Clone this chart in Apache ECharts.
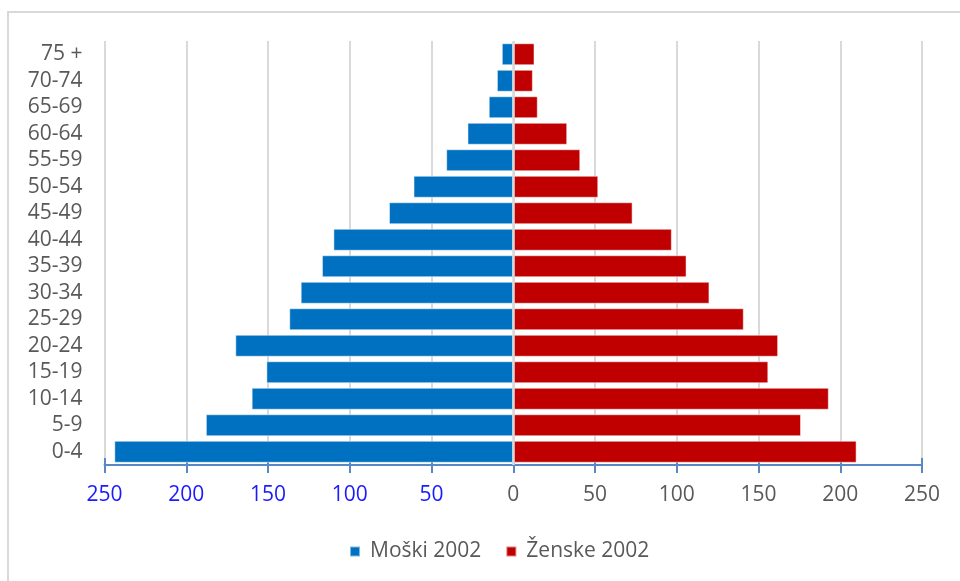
<!DOCTYPE html>
<html>
<head>
<meta charset="utf-8">
<script src="https://cdn.jsdelivr.net/npm/echarts@6/dist/echarts.min.js"></script>
<style>
html,body{margin:0;padding:0;background:#fff;}
#c{width:960px;height:581px;}
</style>
</head>
<body>
<div id="c"></div>
<script>
const categories = ["0-4","5-9","10-14","15-19","20-24","25-29","30-34","35-39","40-44","45-49","50-54","55-59","60-64","65-69","70-74","75 +"];
const male2002 = [244,188,160,151,170,137,130,117,110,76,61,41,28,15,10,7];
const female2002 = [210,176,193,156,162,141,120,106,97,73,52,41,33,15,12,13];
const xTicks = [-250,-200,-150,-100,-50,0,50,100,150,200,250];
const seriesNames = ["Moški 2002","Ženske 2002"];

const chart = echarts.init(document.getElementById('c'), null, {renderer:'canvas'});
const font = "'Open Sans', sans-serif";
const xBase = {
  type:'value', min:xTicks[0], max:xTicks[xTicks.length-1], interval:50, position:'bottom'
};
chart.setOption({
  animation:false,
  backgroundColor:'#fff',
  textStyle:{fontFamily:font},
  graphic:[{type:'rect', shape:{x:8,y:12,width:980,height:620}, style:{fill:'none', stroke:'#d9d9d9', lineWidth:2}, silent:true}],
  legend:{
    data:seriesNames, bottom:14, left:344, icon:'rect', itemWidth:10, itemHeight:10, itemGap:24,
    textStyle:{fontSize:21, color:'#595959', fontFamily:font, padding:[0,0,0,5]}
  },
  grid:{left:104.5, right:38, top:41, bottom:116, containLabel:false},
  xAxis:[
    Object.assign({}, xBase, {
      axisLine:{show:true, lineStyle:{color:'#5a87c6', width:2}},
      axisTick:{show:true, inside:false, length:8, lineStyle:{color:'#5a87c6', width:2}},
      splitLine:{show:true, lineStyle:{color:'#d9d9d9', width:2}},
      axisLabel:{
        fontSize:21, margin:20, fontFamily:font,
        formatter:v=>String(Math.abs(v)),
        color:v=> (v<0 ? '#1a1aff' : '#595959')
      }
    }),
    Object.assign({}, xBase, {
      axisLine:{show:false},
      axisTick:{show:true, inside:true, length:7, lineStyle:{color:'#5a87c6', width:2}},
      splitLine:{show:false},
      axisLabel:{show:false}
    })
  ],
  yAxis:{
    type:'category', data:categories,
    axisLine:{show:false}, axisTick:{show:false}, splitLine:{show:false},
    axisLabel:{interval:0, fontSize:21, color:'#595959', margin:22, fontFamily:font}
  },
  series:[
    {
      name:seriesNames[0], type:'bar', stack:'p', xAxisIndex:0,
      data:male2002.map(v=>-v), barWidth:22,
      itemStyle:{color:'#0070c0', borderColor:'rgba(255,255,255,0.5)', borderWidth:1},
      markLine:{silent:true, symbol:'none', label:{show:false}, lineStyle:{color:'#d9d9d9', width:2.5, type:'solid'}, data:[{xAxis:0}]}
    },
    {
      name:seriesNames[1], type:'bar', stack:'p', xAxisIndex:0,
      data:female2002, barWidth:22,
      itemStyle:{color:'#c00000', borderColor:'rgba(255,255,255,0.5)', borderWidth:1}
    }
  ]
});
</script>
</body>
</html>
